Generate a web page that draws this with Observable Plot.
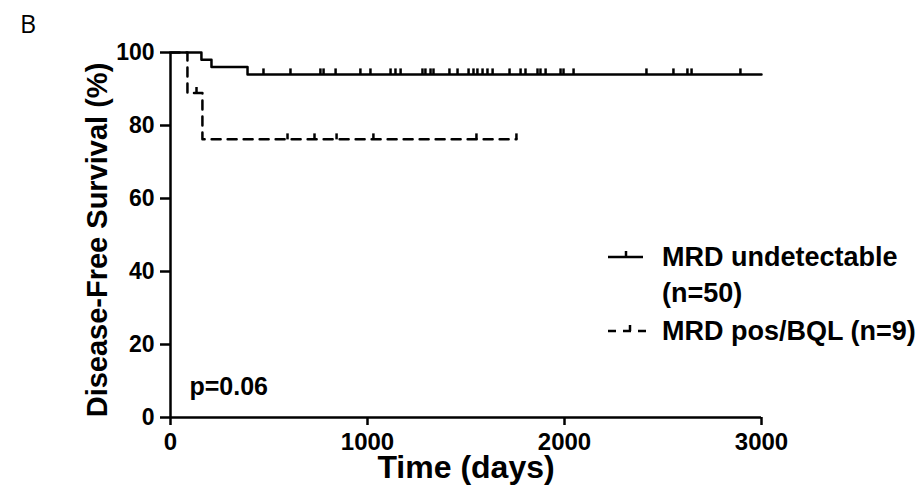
<!DOCTYPE html>
<html><head><meta charset="utf-8">
<script src="https://cdn.jsdelivr.net/npm/d3@7"></script>
<script src="https://cdn.jsdelivr.net/npm/@observablehq/plot@0.6"></script>
<style>
body{margin:0;background:#fff;}
#wrap{position:relative;width:924px;height:498px;font-family:"Liberation Sans",Arial,sans-serif;color:#000;}
#panel{position:absolute;left:20px;top:6px;font-size:25px;font-family:"Open Sans","Liberation Sans",sans-serif;}
.leg{position:absolute;font-weight:bold;font-size:27px;line-height:36px;white-space:nowrap;}
.legsvg{position:absolute;}
</style></head><body>
<div id="wrap"><div id="panel">B</div><div id="chart"></div></div>
<script>
const panelLabel = "B";
const xTicks = [0, 1000, 2000, 3000];
const yTicks = [0, 20, 40, 60, 80, 100];
const xLabel = "Time (days)";
const yLabel = "Disease-Free Survival (%)";
const pValue = "p=0.06";
const legendLines = [["MRD undetectable", "(n=50)"], ["MRD pos/BQL (n=9)"]];

// MRD undetectable (n=50)
const undetEventDays = [157, 208, 391];
const undetEventSurv = [98, 96, 94];
const undetLastDay = 3000;
const undetCensorDays = [472, 609, 761, 777, 838, 964, 1015, 1117, 1142, 1168, 1279, 1294, 1320, 1335,
  1416, 1457, 1513, 1538, 1558, 1584, 1609, 1635, 1721, 1777, 1802, 1863, 1878, 1904, 1980, 1995, 2046,
  2416, 2553, 2624, 2645, 2893];

// MRD pos/BQL (n=9)
const posEventDays = [86, 162];
const posEventSurv = [88.9, 76.2];
const posLastDay = 1756;
const posCensorDays = [132, 594, 731, 843, 1030, 1553, 1756];

function stepLine(evDays, evSurv, lastDay) {
  const pts = [{day: 0, surv: 100}];
  evDays.forEach((d, i) => pts.push({day: d, surv: evSurv[i]}));
  pts.push({day: lastDay, surv: evSurv[evSurv.length - 1]});
  return pts;
}
function survAt(day, evDays, evSurv) {
  let s = 100;
  evDays.forEach((d, i) => { if (d <= day) s = evSurv[i]; });
  return s;
}
const undetLine = stepLine(undetEventDays, undetEventSurv, undetLastDay);
const posLine = stepLine(posEventDays, posEventSurv, posLastDay);
const censors = [
  ...undetCensorDays.map(d => ({day: d, surv: survAt(d, undetEventDays, undetEventSurv)})),
  ...posCensorDays.map(d => ({day: d, surv: survAt(d, posEventDays, posEventSurv)}))
];

const tickUp = {draw(ctx) { ctx.moveTo(0, 0); ctx.lineTo(0, -6); }};
const FONT = '"Liberation Sans", Arial, sans-serif';

const chart = Plot.plot({
  width: 924, height: 498,
  marginLeft: 170, marginRight: 163, marginTop: 52, marginBottom: 81,
  style: {fontFamily: FONT, fontWeight: "bold", color: "black", background: "white"},
  x: {domain: [0, 3000]},
  y: {domain: [0, 100]},
  marks: [
    Plot.axisX({ticks: xTicks, tickSize: 8, tickPadding: 7, fontSize: 24, label: null, strokeWidth: 2.5, tickFormat: d => String(d)}),
    Plot.axisY({ticks: yTicks, tickSize: 10, tickPadding: 6, fontSize: 23, label: null, strokeWidth: 2.5}),
    Plot.ruleX([0], {y1: 0, y2: 100, strokeWidth: 2.5}),
    Plot.ruleY([0], {x1: 0, x2: 3000, strokeWidth: 2.5}),
    Plot.line(undetLine, {x: "day", y: "surv", curve: "step-after", strokeWidth: 2.5}),
    Plot.line(posLine, {x: "day", y: "surv", curve: "step-after", strokeWidth: 2.5, strokeDasharray: "9,7"}),
    Plot.dot(censors, {x: "day", y: "surv", symbol: tickUp, r: 3, stroke: "black", fill: "none", strokeWidth: 2.5}),
    Plot.text([yLabel], {frameAnchor: "left", textAnchor: "middle", lineAnchor: "middle", rotate: -90, dx: -73, dy: 5, fontSize: 29, fontWeight: "bold"}),
    Plot.text([xLabel], {frameAnchor: "bottom", textAnchor: "middle", lineAnchor: "middle", dy: 50, fontSize: 32, fontWeight: "bold"}),
    Plot.text([pValue], {frameAnchor: "bottom-left", textAnchor: "start", lineAnchor: "middle", dx: 19, dy: -31, fontSize: 25, fontWeight: "bold"})
  ]
});
document.getElementById("chart").appendChild(chart);
document.getElementById("panel").textContent = panelLabel;

// legend
const wrap = document.getElementById("wrap");
function legendSample(top, dashed) {
  const ns = "http://www.w3.org/2000/svg";
  const svg = document.createElementNS(ns, "svg");
  svg.setAttribute("class", "legsvg");
  svg.setAttribute("width", 46); svg.setAttribute("height", 16);
  svg.style.left = "605px"; svg.style.top = (top - 10) + "px";
  const l = document.createElementNS(ns, "line");
  l.setAttribute("x1", 3); l.setAttribute("x2", dashed ? 45 : 38);
  l.setAttribute("y1", 10); l.setAttribute("y2", 10);
  l.setAttribute("stroke", "black"); l.setAttribute("stroke-width", 2.5);
  if (dashed) l.setAttribute("stroke-dasharray", "8,7");
  const t = document.createElementNS(ns, "line");
  t.setAttribute("x1", dashed ? 25 : 21); t.setAttribute("x2", dashed ? 25 : 21);
  t.setAttribute("y1", 10); t.setAttribute("y2", 4);
  t.setAttribute("stroke", "black"); t.setAttribute("stroke-width", 2.5);
  svg.appendChild(l); svg.appendChild(t);
  wrap.appendChild(svg);
}
function legendText(top, lines) {
  const d = document.createElement("div");
  d.className = "leg";
  d.style.left = "662px"; d.style.top = top + "px";
  d.innerHTML = lines.map(s => s.replace(/&/g, "&amp;").replace(/</g, "&lt;")).join("<br>");
  wrap.appendChild(d);
}
legendSample(257, false);
legendText(239, legendLines[0]);
legendSample(331, true);
legendText(313, legendLines[1]);
</script>
</body></html>
